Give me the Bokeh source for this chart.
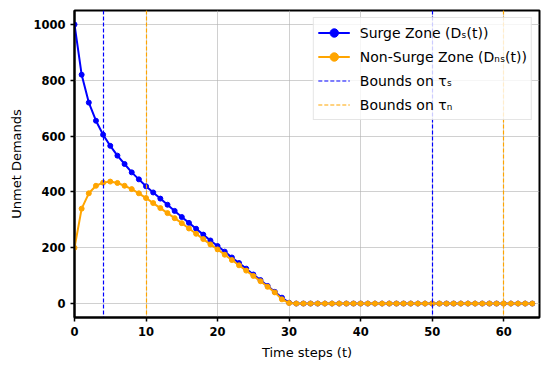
from bokeh.plotting import figure
from bokeh.models import ColumnDataSource, Range1d, FixedTicker
from bokeh.embed import file_html
from bokeh.resources import INLINE

t = list(range(65))
surge = [1000, 820, 720, 655, 605, 565, 530, 500, 470, 445,
         420, 398, 376, 354, 332, 310, 289, 268, 247, 226,
         206, 186, 165, 145, 125, 104, 84, 63, 42, 21, 3] + [0] * 34
nonsurge = [200, 340, 395, 422, 433, 437, 432, 422, 410, 395,
            378, 360, 342, 324, 306, 288, 269, 250, 231, 212,
            194, 175, 156, 137, 118, 99, 80, 60, 40, 15, 2] + [0] * 34
bounds_s = [4, 50]
bounds_n = [10, 60]
xticks = [0, 10, 20, 30, 40, 50, 60]
yticks = [0, 200, 400, 600, 800, 1000]

BLUE = "#0000ff"
ORANGE = "#ffa500"
FONT = "DejaVu Sans"

p = figure(width=541, height=362, output_backend="svg", toolbar_location=None,
           x_range=Range1d(0, 65), y_range=Range1d(-50, 1050),
           min_border_left=74, min_border_right=2, min_border_top=10, min_border_bottom=44)

src = ColumnDataSource(dict(t=t, s=surge, n=nonsurge))

p.line("t", "s", source=src, line_color=BLUE, line_width=2, legend_label="Surge Zone (Dₛ(t))")
p.scatter("t", "s", source=src, size=5, fill_color=BLUE, line_color=BLUE, legend_label="Surge Zone (Dₛ(t))")
p.line("t", "n", source=src, line_color=ORANGE, line_width=2, legend_label="Non-Surge Zone (Dₙₛ(t))")
p.scatter("t", "n", source=src, size=5, fill_color=ORANGE, line_color=ORANGE, legend_label="Non-Surge Zone (Dₙₛ(t))")
p.vspan(x=bounds_s, line_color=BLUE, line_width=1.2, line_dash="4 2", legend_label="Bounds on τₛ")
p.vspan(x=bounds_n, line_color=ORANGE, line_width=1.2, line_dash="4 2", legend_label="Bounds on τₙ")

p.xaxis.ticker = FixedTicker(ticks=xticks)
p.yaxis.ticker = FixedTicker(ticks=yticks)
p.xaxis.axis_label = "Time steps (t)"
p.yaxis.axis_label = "Unmet Demands"
for ax in (p.xaxis, p.yaxis):
    ax.axis_label_text_font = FONT
    ax.axis_label_text_font_size = "13px"
    ax.axis_label_text_font_style = "normal"
    ax.axis_label_text_color = "black"
    ax.axis_label_standoff = 6
    ax.major_label_text_font = FONT
    ax.major_label_text_font_size = "11.5px"
    ax.major_label_text_font_style = "bold"
    ax.major_label_text_color = "black"
    ax.axis_line_width = 2
    ax.axis_line_color = "black"
    ax.major_tick_line_width = 1.5
    ax.major_tick_line_color = "black"
    ax.major_tick_out = 4
    ax.major_tick_in = 0
    ax.minor_tick_line_color = None

p.outline_line_color = "black"
p.outline_line_width = 2
p.outline_line_alpha = 1
p.grid.grid_line_color = "#b0b0b0"
p.grid.grid_line_alpha = 0.6
p.grid.grid_line_width = 1

p.legend.location = "top_right"
p.legend.margin = 7
p.legend.padding = 4
p.legend.spacing = 3
p.legend.label_standoff = 10
p.legend.label_text_font = FONT
p.legend.label_text_font_size = "14px"
p.legend.label_text_color = "black"
p.legend.label_height = 21
p.legend.glyph_height = 21
p.legend.glyph_width = 32
p.legend.border_line_color = "#cccccc"
p.legend.border_line_width = 1
p.legend.background_fill_alpha = 0.8

open("out.html", "w").write(file_html(p, INLINE))
